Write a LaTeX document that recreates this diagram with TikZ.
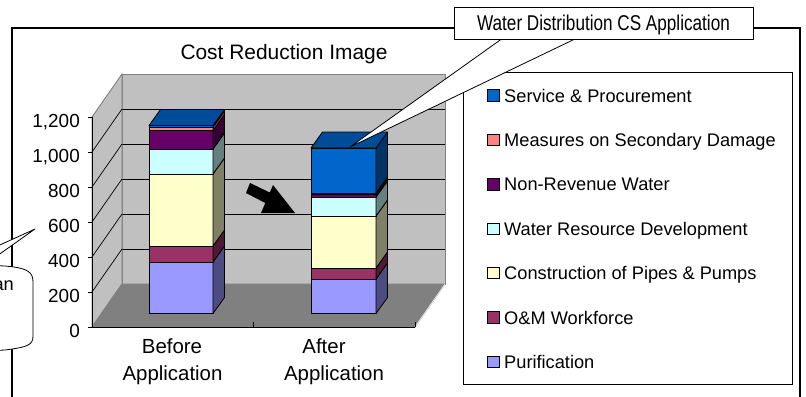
\documentclass[tikz,border=0pt]{standalone}
\usepackage{fontspec}
\setmainfont{Liberation Sans}
\newfontfamily\narrowfont[FakeStretch=0.8]{Liberation Sans}

% series colours: front face / shaded side face
\definecolor{svc}{HTML}{0066CC}  \definecolor{svcS}{HTML}{003366} \definecolor{svcT}{HTML}{004C99}
\definecolor{mea}{HTML}{FF8080}  \definecolor{meaS}{HTML}{804040}
\definecolor{nrw}{HTML}{660066}  \definecolor{nrwS}{HTML}{330033}
\definecolor{wrd}{HTML}{CCFFFF}  \definecolor{wrdS}{HTML}{668080}
\definecolor{con}{HTML}{FFFFCC}  \definecolor{conS}{HTML}{808066}
\definecolor{oam}{HTML}{993366}  \definecolor{oamS}{HTML}{4D1A33}
\definecolor{pur}{HTML}{9999FF}  \definecolor{purS}{HTML}{4C4C80}
\definecolor{wallc}{HTML}{C0C0C0}
\definecolor{floorc}{HTML}{808080}

\begin{document}
\begin{tikzpicture}[x=1bp,y=-1bp,
  framebox/.style={draw=black,line width=1.3bp},
  barline/.style={draw=black,line width=0.8bp,line join=round},
  gridline/.style={black,line width=0.7bp},
  wallline/.style={draw=floorc,line width=0.9bp},
  axisline/.style={black,line width=0.9bp},
  ylab/.style={anchor=base east,font=\fontsize{19}{19}\selectfont,inner sep=0},
  xlab/.style={anchor=base,font=\fontsize{20.5}{20.5}\selectfont,inner sep=0},
  titletext/.style={anchor=base,font=\fontsize{21}{21}\selectfont,inner sep=0},
  legtext/.style={anchor=base west,font=\fontsize{18.3}{18.3}\selectfont,inner sep=0},
  swatch/.style={draw=black,line width=0.8bp,minimum size=11.5bp,inner sep=0},
  callout/.style={draw=black,fill=white,line width=0.8bp,line join=round},
  arrowfill/.style={fill=black}
]
\useasboundingbox (0,0) rectangle (806,396);
\clip (0,0) rectangle (806,396);
\fill[white] (0,0) rectangle (806,396);

% outer chart frame
\draw[framebox] (12,28) rectangle (800,430);

% title
\node[titletext] (title) at (284,59.5) {Cost Reduction Image};

% back wall with gridlines
\filldraw[fill=wallc,wallline] (122,74) rectangle (445,284);
\foreach \gy in {109,144,179,214,249}
  \draw[gridline] (122,\gy) -- (445,\gy);
% side wall with diagonal gridlines
\filldraw[fill=wallc,wallline] (92,117) -- (122,74) -- (122,284) -- (92,327) -- cycle;
\foreach \gy in {152,187,222,257,292}
  \draw[gridline] (92,\gy) -- (122,\gy-43);
% floor
\filldraw[fill=floorc,wallline] (92,327) -- (122,284) -- (445,284) -- (415,327) -- cycle;
\draw[white!85!gray,line width=0.8bp] (415,327) -- (445,284);

% axes and ticks
\draw[axisline] (92,117) -- (92,327) -- (415,327);
\foreach \gy in {117,152,187,222,257,292,327}
  \draw[axisline] (88,\gy) -- (92,\gy);
\draw[axisline] (253,327) -- (253,322);
\draw[axisline] (415,327) -- (415,322);

% value labels
\foreach \v/\gy in {0/327,200/292,400/257,600/222,800/187,{1,000}/152,{1,200}/117}
  \node[ylab] at (80,\gy+10) {\v};

% category labels
\node[xlab] (before1) at (172,353.5) {Before};
\node[xlab] (before2) at (172.5,380) {Application};
\node[xlab] (after1) at (324,353.5) {After};
\node[xlab] (after2) at (334,380) {Application};

% stacked 3-D bars: bottom / top / front colour / side colour
\def\dx{11.5}\def\dy{-16}
\foreach \xa/\xb/\segs/\ytop in {
    149/213/{313.5/262/pur/purS,262/246/oam/oamS,246/174/con/conS,174/149/wrd/wrdS,149/130.5/nrw/nrwS,130.5/127/mea/meaS,127/125.5/svc/svcS}/125.5,
    311/376/{313.5/279/pur/purS,279/268/oam/oamS,268/216/con/conS,216/197/wrd/wrdS,197/194.5/nrw/nrwS,194.5/193/mea/meaS,193/148/svc/svcS}/148}{
  \foreach \yb/\yt/\cf/\cs in \segs {
    \filldraw[fill=\cf,barline] (\xa,\yb) rectangle (\xb,\yt);
    \filldraw[fill=\cs,barline] (\xb,\yb) -- (\xb+\dx,\yb+\dy) -- (\xb+\dx,\yt+\dy) -- (\xb,\yt) -- cycle;
  }
  \filldraw[fill=svcT,barline] (\xa,\ytop) -- (\xa+\dx,\ytop+\dy) -- (\xb+\dx,\ytop+\dy) -- (\xb,\ytop) -- cycle;
}

% block arrow between the bars
\fill[arrowfill] (250,183) -- (269.8,192.5) -- (273,185) -- (295,213) -- (261,213)
  -- (265.3,203) -- (246,193) -- cycle;

% legend
\draw[black,line width=0.8bp,fill=white] (463,72) rectangle (792,384);
\foreach \i/\name/\c in {0/Service \& Procurement/svc,
    1/Measures on Secondary Damage/mea,
    2/Non-Revenue Water/nrw,
    3/Water Resource Development/wrd,
    4/Construction of Pipes \& Pumps/con,
    5/O\&M Workforce/oam,
    6/Purification/pur}{
  \node[swatch,fill=\c] (sw\i) at (493.5,{95.5+44.4*\i}) {};
  \node[legtext] (lt\i) at (504,{102+44.4*\i}) {\name};
}

% callout pointing at the reduced top segment
\coordinate (tipA) at (350,147);
\coordinate (wa) at (503,38);
\coordinate (wb) at (577,38);
\filldraw[callout] (wa) -- (tipA) -- (wb);
\node[callout,minimum width=299bp,minimum height=32bp,text depth=0bp,
      font=\narrowfont\fontsize{21.5}{21.5}\selectfont] (cbox) at (603.5,23)
  {Water Distribution CS Application};

% callout at the left edge
\coordinate (tipB) at (35,229);
\coordinate (wc) at (-20,254);
\coordinate (wd) at (-20,268);
\filldraw[callout] (wc) -- (tipB) -- (wd);
\filldraw[callout] (-80,262) -- (5,266) .. controls (28,268) and (33,272) .. (33,282)
  -- (33,336) .. controls (33,345) and (28,347) .. (5,350) -- (-80,354) -- cycle;
\node[anchor=base east,font=\fontsize{18.3}{18.3}\selectfont,inner sep=0] (lcall) at (14,290) {an};
\end{tikzpicture}
\end{document}
